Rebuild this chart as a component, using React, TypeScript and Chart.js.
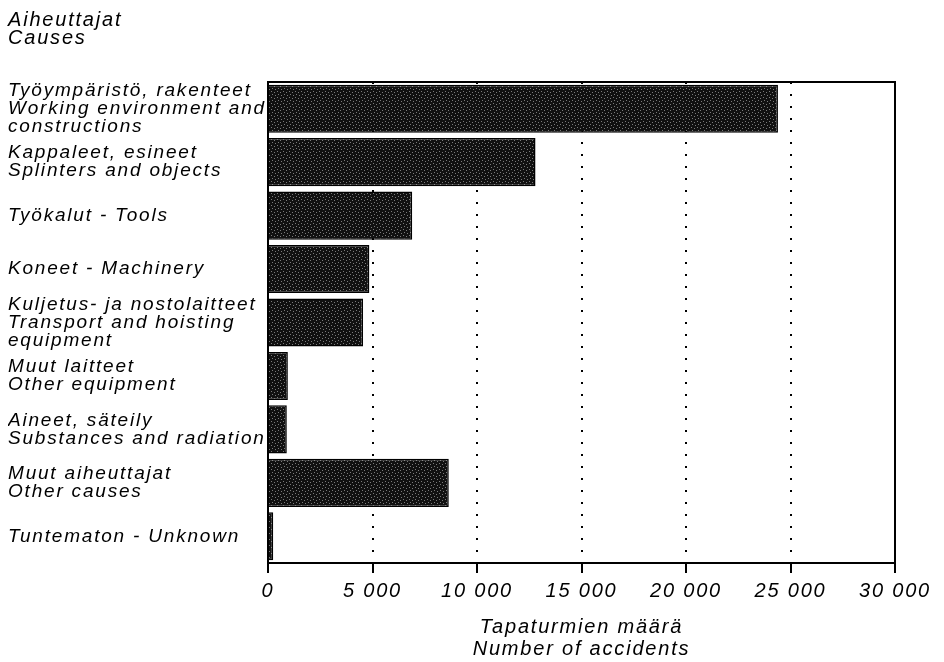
import React, { useEffect, useRef } from "react";
import { Chart, registerables } from "chart.js";

Chart.register(...registerables);

const titleLines = ["Aiheuttajat", "Causes"];
const categories: string[][] = [
  ["Työympäristö, rakenteet", "Working environment and", "constructions"],
  ["Kappaleet, esineet", "Splinters and objects"],
  ["Työkalut - Tools"],
  ["Koneet - Machinery"],
  ["Kuljetus- ja nostolaitteet", "Transport and hoisting", "equipment"],
  ["Muut laitteet", "Other equipment"],
  ["Aineet, säteily", "Substances and radiation"],
  ["Muut aiheuttajat", "Other causes"],
  ["Tuntematon - Unknown"],
];
const accidents = [24400, 12800, 6900, 4850, 4550, 950, 900, 8650, 250];
const xTickLabels = ["0", "5 000", "10 000", "15 000", "20 000", "25 000", "30 000"];
const xTitleLines = ["Tapaturmien määrä", "Number of accidents"];

const FONT = "'Liberation Sans', Arial, Helvetica, sans-serif";

export default function App() {
  const ref = useRef<HTMLCanvasElement | null>(null);

  useEffect(() => {
    const canvas = ref.current;
    if (!canvas) return;
    const ctx = canvas.getContext("2d")!;

    // stippled dark fill
    const pc = document.createElement("canvas");
    pc.width = 6;
    pc.height = 6;
    const p = pc.getContext("2d")!;
    p.fillStyle = "#111111";
    p.fillRect(0, 0, 6, 6);
    p.fillStyle = "#7a7a7a";
    [[1, 1], [4, 2], [2, 4], [5, 5]].forEach(([x, y]) => p.fillRect(x, y, 1, 1));
    const pattern = ctx.createPattern(pc, "repeat") || "#222";

    const spacingPlugin = {
      id: "spacing",
      beforeDraw(chart: any) {
        (chart.ctx as any).letterSpacing = "1.8px";
      },
    };
    const framePlugin = {
      id: "frame",
      afterDraw(chart: any) {
        const { left, right, top, bottom } = chart.chartArea;
        const c = chart.ctx;
        c.save();
        c.strokeStyle = "#000";
        c.lineWidth = 2;
        c.setLineDash([]);
        c.beginPath();
        c.moveTo(left, top);
        c.lineTo(right, top);
        c.lineTo(right, bottom + 10);
        c.stroke();
        c.restore();
      },
    };

    const chart = new Chart(canvas, {
      type: "bar",
      data: {
        labels: categories as any,
        datasets: [
          {
            data: accidents,
            backgroundColor: pattern as any,
            borderColor: "#000",
            borderWidth: 1.5,
            barPercentage: 0.9,
            categoryPercentage: 1,
          },
        ],
      },
      options: {
        indexAxis: "y",
        animation: false,
        responsive: false,
        layout: { padding: { left: 8, right: 49, top: 0, bottom: 0 } },
        plugins: {
          legend: { display: false },
          tooltip: { enabled: false },
          title: {
            display: true,
            text: titleLines,
            align: "start",
            color: "#000",
            font: { family: FONT, size: 20, style: "italic", weight: "normal", lineHeight: "18px" as any },
            padding: { top: 11, bottom: 35 },
          },
        },
        scales: {
          x: {
            type: "linear",
            min: 0,
            max: 30000,
            afterFit(scale: any) {
              scale.height = 99;
            },
            ticks: {
              stepSize: 5000,
              autoSkip: false,
              maxRotation: 0,
              padding: 8,
              color: "#000",
              font: { family: FONT, size: 20, style: "italic", lineHeight: "20px" as any },
              callback: (_v: any, i: number) => xTickLabels[i],
            },
            grid: {
              display: true,
              drawTicks: true,
              tickLength: 10,
              tickColor: "#000",
              tickWidth: 2,
              tickBorderDash: [],
              lineWidth: 2,
              color: (c: any) =>
                c.tick && (c.tick.value === 0 || c.tick.value === 30000) ? "rgba(0,0,0,0)" : "#000",
            },
            border: { display: true, color: "#000", width: 2, dash: [2, 10] },
            title: {
              display: true,
              text: xTitleLines,
              color: "#000",
              font: { family: FONT, size: 20, style: "italic", lineHeight: "22px" as any },
              padding: { top: 0, bottom: 2 },
            },
          },
          y: {
            type: "category",
            afterFit(scale: any) {
              scale.width = 260;
            },
            ticks: {
              crossAlign: "far",
              autoSkip: false,
              color: "#000",
              font: { family: FONT, size: 19, style: "italic", lineHeight: "18px" as any },
            },
            grid: { display: false },
            border: { display: true, color: "#000", width: 2 },
          },
        },
      },
      plugins: [spacingPlugin, framePlugin],
    });

    return () => chart.destroy();
  }, []);

  return (
    <div style={{ position: "fixed", left: 0, top: 0, width: 944, height: 662, background: "#fff" }}>
      <canvas ref={ref} width={944} height={662} style={{ display: "block" }} />
    </div>
  );
}
